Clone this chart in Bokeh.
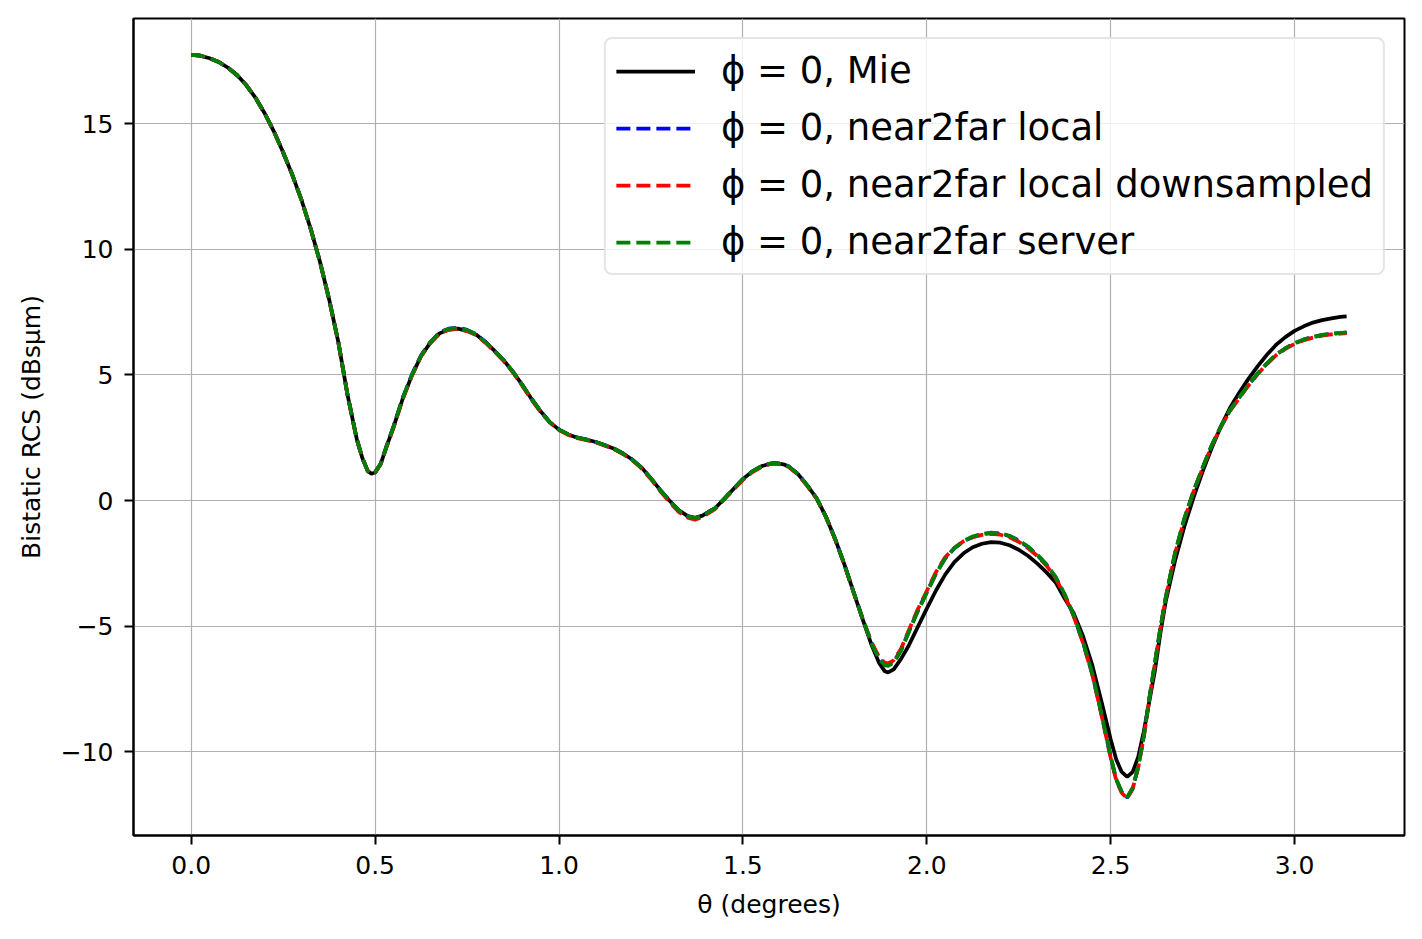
from bokeh.plotting import figure
from bokeh.models import Range1d, FixedTicker, CustomJSTickFormatter
from bokeh.embed import file_html
from bokeh.resources import INLINE

theta = [0.000, 0.025, 0.050, 0.075, 0.100, 0.125, 0.150, 0.175, 0.200, 0.225,
         0.250, 0.275, 0.300, 0.325, 0.350, 0.375, 0.400, 0.425, 0.450, 0.465,
         0.480, 0.490, 0.500, 0.515, 0.530, 0.550, 0.575, 0.600, 0.625, 0.650,
         0.675, 0.700, 0.725, 0.750, 0.775, 0.800, 0.825, 0.850, 0.875, 0.900,
         0.925, 0.950, 0.975, 1.000, 1.025, 1.050, 1.075, 1.100, 1.125, 1.150,
         1.175, 1.200, 1.225, 1.250, 1.275, 1.300, 1.325, 1.350, 1.370, 1.390,
         1.410, 1.425, 1.450, 1.475, 1.500, 1.525, 1.550, 1.575, 1.590, 1.610,
         1.625, 1.650, 1.675, 1.700, 1.725, 1.750, 1.775, 1.800, 1.825, 1.850,
         1.870, 1.885, 1.895, 1.910, 1.930, 1.950, 1.975, 2.000, 2.025, 2.050,
         2.075, 2.100, 2.125, 2.150, 2.175, 2.200, 2.225, 2.250, 2.275, 2.300,
         2.325, 2.350, 2.375, 2.400, 2.425, 2.450, 2.475, 2.500, 2.515, 2.530,
         2.545, 2.560, 2.575, 2.590, 2.605, 2.620, 2.635, 2.650, 2.675, 2.700,
         2.725, 2.750, 2.775, 2.800, 2.825, 2.850, 2.875, 2.900, 2.925, 2.950,
         2.975, 3.000, 3.025, 3.050, 3.075, 3.100, 3.125, 3.1416]

mie = [17.73, 17.70, 17.60, 17.45, 17.22, 16.92, 16.52, 16.02, 15.40, 14.68,
       13.85, 12.95, 11.95, 10.80, 9.50, 8.00, 6.30, 4.20, 2.45, 1.70,
       1.17, 1.06, 1.12, 1.45, 2.10, 2.92, 4.05, 4.98, 5.75, 6.27,
       6.65, 6.80, 6.84, 6.75, 6.60, 6.30, 5.95, 5.57, 5.12, 4.60,
       4.05, 3.55, 3.12, 2.82, 2.63, 2.50, 2.42, 2.33, 2.20, 2.06,
       1.86, 1.62, 1.30, 0.88, 0.42, 0.00, -0.38, -0.62, -0.69, -0.60,
       -0.42, -0.30, 0.08, 0.47, 0.85, 1.15, 1.36, 1.47, 1.49, 1.44,
       1.35, 1.05, 0.60, 0.10, -0.62, -1.50, -2.50, -3.60, -4.70, -5.75,
       -6.45, -6.78, -6.84, -6.72, -6.30, -5.80, -5.05, -4.30, -3.58, -2.95,
       -2.45, -2.10, -1.86, -1.72, -1.66, -1.68, -1.78, -1.96, -2.20, -2.50,
       -2.85, -3.25, -3.90, -4.50, -5.40, -6.55, -8.00, -9.50, -10.30, -10.80,
       -11.00, -10.80, -10.20, -9.20, -8.00, -6.80, -5.30, -4.00, -2.40, -1.05,
       0.10, 1.15, 2.10, 2.95, 3.70, 4.30, 4.85, 5.35, 5.80, 6.20,
       6.50, 6.75, 6.93, 7.08, 7.18, 7.25, 7.31, 7.33]

n2f_local = [17.73, 17.70, 17.60, 17.45, 17.22, 16.92, 16.52, 16.02, 15.40, 14.68,
             13.85, 12.95, 11.95, 10.80, 9.50, 8.00, 6.30, 4.20, 2.45, 1.70,
             1.17, 1.06, 1.12, 1.46, 2.12, 2.95, 4.08, 5.01, 5.78, 6.30,
             6.69, 6.84, 6.88, 6.79, 6.62, 6.31, 5.95, 5.57, 5.12, 4.60,
             4.05, 3.55, 3.12, 2.82, 2.63, 2.50, 2.42, 2.33, 2.20, 2.06,
             1.86, 1.62, 1.30, 0.88, 0.42, 0.00, -0.39, -0.63, -0.70, -0.61,
             -0.43, -0.30, 0.08, 0.47, 0.85, 1.15, 1.36, 1.47, 1.49, 1.44,
             1.35, 1.05, 0.60, 0.10, -0.62, -1.50, -2.50, -3.60, -4.68, -5.68,
             -6.28, -6.52, -6.55, -6.42, -5.95, -5.25, -4.40, -3.65, -2.90, -2.30,
             -1.90, -1.62, -1.45, -1.35, -1.30, -1.32, -1.42, -1.60, -1.85, -2.17,
             -2.55, -3.05, -3.75, -4.60, -5.65, -6.90, -8.50, -10.20, -11.10, -11.60,
             -11.83, -11.45, -10.60, -9.40, -7.90, -6.50, -5.10, -3.85, -2.10, -0.75,
             0.35, 1.30, 2.20, 2.95, 3.60, 4.10, 4.60, 5.05, 5.45, 5.80,
             6.05, 6.25, 6.40, 6.50, 6.58, 6.63, 6.66, 6.68]

n2f_down = [17.73, 17.70, 17.60, 17.45, 17.22, 16.92, 16.52, 16.02, 15.40, 14.68,
            13.85, 12.95, 11.95, 10.80, 9.50, 8.00, 6.30, 4.20, 2.45, 1.70,
            1.17, 1.06, 1.12, 1.44, 2.08, 2.90, 4.03, 4.96, 5.74, 6.26,
            6.64, 6.79, 6.83, 6.74, 6.58, 6.28, 5.92, 5.54, 5.09, 4.57,
            4.02, 3.52, 3.10, 2.80, 2.61, 2.48, 2.40, 2.31, 2.18, 2.04,
            1.84, 1.60, 1.27, 0.85, 0.38, -0.05, -0.45, -0.68, -0.76, -0.66,
            -0.47, -0.33, 0.05, 0.44, 0.82, 1.12, 1.33, 1.45, 1.47, 1.42,
            1.33, 1.03, 0.58, 0.08, -0.64, -1.52, -2.52, -3.62, -4.68, -5.65,
            -6.22, -6.45, -6.48, -6.36, -5.90, -5.20, -4.35, -3.60, -2.85, -2.26,
            -1.88, -1.62, -1.46, -1.37, -1.33, -1.36, -1.46, -1.64, -1.89, -2.20,
            -2.58, -3.08, -3.78, -4.63, -5.68, -6.93, -8.53, -10.23, -11.13, -11.63,
            -11.86, -11.47, -10.62, -9.42, -7.92, -6.52, -5.12, -3.87, -2.12, -0.77,
            0.33, 1.28, 2.18, 2.93, 3.58, 4.08, 4.58, 5.03, 5.43, 5.78,
            6.03, 6.23, 6.38, 6.48, 6.56, 6.61, 6.64, 6.66]

n2f_server = [17.73, 17.70, 17.60, 17.45, 17.22, 16.92, 16.52, 16.02, 15.40, 14.68,
              13.85, 12.95, 11.95, 10.80, 9.50, 8.00, 6.30, 4.20, 2.45, 1.70,
              1.17, 1.06, 1.12, 1.46, 2.11, 2.94, 4.07, 5.00, 5.77, 6.29,
              6.68, 6.83, 6.87, 6.78, 6.61, 6.30, 5.95, 5.57, 5.12, 4.60,
              4.05, 3.55, 3.12, 2.82, 2.63, 2.50, 2.42, 2.33, 2.20, 2.06,
              1.86, 1.62, 1.30, 0.88, 0.42, 0.00, -0.39, -0.63, -0.70, -0.61,
              -0.43, -0.30, 0.08, 0.47, 0.85, 1.15, 1.36, 1.47, 1.49, 1.44,
              1.35, 1.05, 0.60, 0.10, -0.62, -1.50, -2.50, -3.60, -4.68, -5.70,
              -6.30, -6.55, -6.58, -6.45, -5.98, -5.28, -4.43, -3.67, -2.92, -2.31,
              -1.90, -1.61, -1.43, -1.33, -1.28, -1.30, -1.40, -1.58, -1.83, -2.15,
              -2.53, -3.03, -3.73, -4.58, -5.63, -6.88, -8.48, -10.18, -11.08, -11.58,
              -11.81, -11.43, -10.58, -9.38, -7.88, -6.48, -5.08, -3.83, -2.08, -0.73,
              0.36, 1.31, 2.21, 2.96, 3.61, 4.11, 4.61, 5.06, 5.46, 5.81,
              6.06, 6.26, 6.41, 6.51, 6.59, 6.64, 6.67, 6.69]

x_ticks = [0.0, 0.5, 1.0, 1.5, 2.0, 2.5, 3.0]
y_ticks = [-10, -5, 0, 5, 10, 15]

labels = ["\u03d5 = 0, Mie", "\u03d5 = 0, near2far local",
          "\u03d5 = 0, near2far local downsampled", "\u03d5 = 0, near2far server"]

FONT = "DejaVu Sans"

p = figure(width=1414, height=931, output_backend="svg", toolbar_location=None,
           x_range=Range1d(-0.157, 3.299), y_range=Range1d(-13.33, 19.18),
           min_border_left=133, min_border_right=10, min_border_top=18,
           min_border_bottom=96)

p.line(theta, mie, line_color="black", line_width=3.75, legend_label=labels[0])
p.line(theta, n2f_local, line_color="blue", line_width=3.75, line_dash="14 6",
       legend_label=labels[1])
p.line(theta, n2f_down, line_color="red", line_width=3.75, line_dash="14 6",
       legend_label=labels[2])
p.line(theta, n2f_server, line_color="green", line_width=3.75, line_dash="14 6",
       legend_label=labels[3])

p.outline_line_color = "black"
p.outline_line_width = 2
p.grid.grid_line_color = "#b0b0b0"
p.grid.grid_line_width = 1.2

p.xaxis.ticker = FixedTicker(ticks=x_ticks)
p.yaxis.ticker = FixedTicker(ticks=y_ticks)
p.xaxis.formatter = CustomJSTickFormatter(code="return tick.toFixed(1);")
p.yaxis.formatter = CustomJSTickFormatter(
    code="return (tick < 0 ? '\u2212' : '') + Math.abs(tick).toFixed(0);")

for ax in (p.xaxis, p.yaxis):
    ax.axis_line_color = "black"
    ax.axis_line_width = 2
    ax.major_tick_line_width = 2
    ax.major_tick_line_color = "black"
    ax.major_tick_out = 9
    ax.major_tick_in = 0
    ax.minor_tick_line_color = None
    ax.major_label_text_font = FONT
    ax.major_label_text_font_size = "25px"
    ax.major_label_text_color = "black"
    ax.axis_label_text_font = FONT
    ax.axis_label_text_font_size = "25px"
    ax.axis_label_text_font_style = "normal"
    ax.axis_label_text_color = "black"

p.xaxis.axis_label = "\u03b8 (degrees)"
p.yaxis.axis_label = "Bistatic RCS (dBs\u03bcm)"
p.xaxis.major_label_standoff = 11
p.yaxis.major_label_standoff = 11
p.xaxis.axis_label_standoff = 13
p.yaxis.axis_label_standoff = 12

lg = p.legend[0]
lg.location = "top_right"
lg.label_text_font = FONT
lg.label_text_font_size = "37px"
lg.label_text_color = "black"
lg.glyph_width = 79
lg.glyph_height = 40
lg.label_height = 40
lg.spacing = 14
lg.padding = 10
lg.margin = 19
lg.label_standoff = 26
lg.border_line_color = "#cccccc"
lg.border_line_width = 2
lg.background_fill_alpha = 0.8
if "border_radius" in lg.properties():
    lg.border_radius = 8

open("out.html", "w").write(file_html(p, INLINE))
